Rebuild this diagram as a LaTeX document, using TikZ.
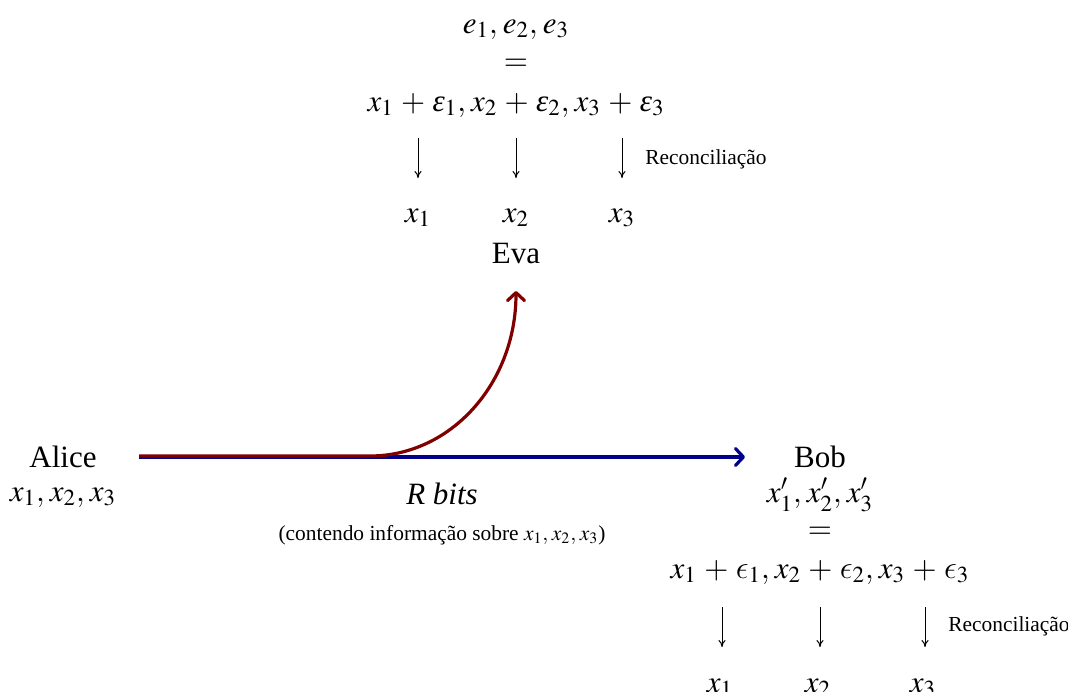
\documentclass[tikz,border=0pt]{standalone}
\usepackage{mathptmx}
\usepackage[no-math]{fontspec}
\setmainfont{Liberation Serif}
\DeclareSymbolFont{cmletters}{OML}{cmm}{m}{it}
\DeclareMathSymbol{\lunateeps}{\mathord}{cmletters}{15}
\newcommand{\veps}{\mbox{\itshape ε}}
\newcommand{\leps}{\mbox{\scalebox{1.12}{$\lunateeps$}}}
\medmuskip=4.3mu plus 2mu minus 2mu
\thinmuskip=3mu
\usetikzlibrary{arrows.meta}
\definecolor{evared}{RGB}{128,0,0}
\definecolor{bobblue}{RGB}{0,0,139}
\begin{document}
\begin{tikzpicture}[x=0.5pt,y=-0.5pt,
  every node/.style={inner sep=0pt, anchor=base, font=\fontsize{15.5}{18}\selectfont},
  small/.style={anchor=base west, font=\fontsize{10.7}{13}\selectfont},
  smallc/.style={anchor=base, font=\fontsize{10.7}{13}\selectfont},
  eq/.style={anchor=center},
  recarrow/.style={line width=0.5pt, -{To[length=3.5pt,width=3.6pt]}},
  channel/.style={line width=1.6pt, -{Straight Barb[length=4pt,width=8.5pt,round]}}
]
\useasboundingbox (0,0) rectangle (1068,691);

% Eva block
\node (ee) at (516,33) {$e_1, e_2, e_3$};
\node[eq] (eeq) at (516,65) {$=$};
\node (esum) at (516,111) {$x_1+\veps_1, x_2+\veps_2, x_3+\veps_3$};
\coordinate (ea1) at (418,138); \coordinate (eb1) at (418,178);
\coordinate (ea2) at (516,138); \coordinate (eb2) at (516,178);
\coordinate (ea3) at (622,138); \coordinate (eb3) at (622,178);
\draw[recarrow] (ea1) -- (eb1);
\draw[recarrow] (ea2) -- (eb2);
\draw[recarrow] (ea3) -- (eb3);
\node[small] (erec) at (645,164) {Reconciliação};
\node (ex1) at (418,222) {$x_1$};
\node (ex2) at (516,222) {$x_2$};
\node (ex3) at (622,222) {$x_3$};
\node (eva) at (516,263) {Eva};
\coordinate (evatip) at (516,291);

% Alice
\node (alice) at (63,467) {Alice};
\node (ax) at (63,501) {$x_1, x_2, x_3$};
\coordinate (astart) at (139,457);
\coordinate (split) at (370,456);

% Bob
\node (bob) at (820,467) {Bob};
\coordinate (bend) at (745,457);
\node (bx) at (820,502) {$x'_1, x'_2, x'_3$};
\node[eq] (beq) at (820,533) {$=$};
\node (bsum) at (820,578) {$x_1+\leps_1, x_2+\leps_2, x_3+\leps_3$};
\coordinate (ba1) at (722,607); \coordinate (bb1) at (722,647);
\coordinate (ba2) at (820,607); \coordinate (bb2) at (820,647);
\coordinate (ba3) at (925,607); \coordinate (bb3) at (925,647);
\draw[recarrow] (ba1) -- (bb1);
\draw[recarrow] (ba2) -- (bb2);
\draw[recarrow] (ba3) -- (bb3);
\node[small] (brec) at (948,631) {Reconciliação};
\node (bx1) at (720,692) {$x_1$};
\node (bx2) at (818,692) {$x_2$};
\node (bx3) at (923,692) {$x_3$};

% channel
\draw[channel, bobblue] (astart) -- (bend);
\draw[channel, evared] (astart |- split) -- (split) .. controls (451,456) and (516,383) .. (evatip);

\node (rbits) at (442,504) {\textit{R bits}};
\node[smallc] (info) at (442,540) {(contendo informação sobre $x_1, x_2, x_3$)};
\end{tikzpicture}
\end{document}
